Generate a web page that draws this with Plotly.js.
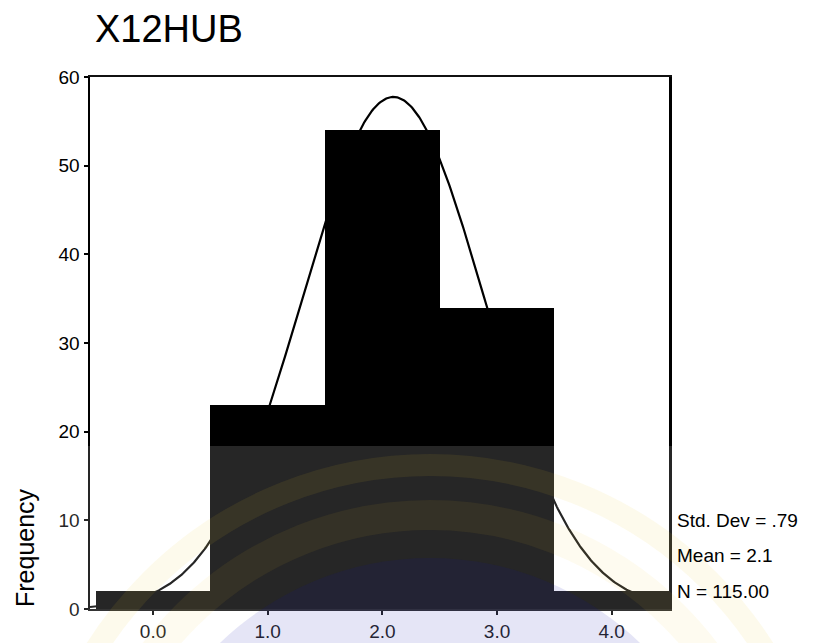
<!DOCTYPE html>
<html>
<head>
<meta charset="utf-8">
<script src="https://cdn.plot.ly/plotly-3.0.1.min.js"></script>
<style>
  html, body { margin: 0; padding: 0; background: #fff; }
  #chart { width: 815px; height: 643px; }
</style>
</head>
<body>
<div id="chart"></div>
<script>
// Histogram of X12HUB (bins of width 1 centred on the category values)
const binCenters = [0, 1, 2, 3, 4];
const frequencies = [2, 23, 54, 34, 2];
const xTickVals = [0, 1, 2, 3, 4];
const xTickText = ['0.0', '1.0', '2.0', '3.0', '4.0'];
const yTickVals = [0, 10, 20, 30, 40, 50, 60];
const chartTitle = 'X12HUB';
const yTitle = 'Frequency';

// Summary statistics taken from the counts
const N = frequencies.reduce((a, b) => a + b, 0);
const mean = binCenters.reduce((s, x, i) => s + x * frequencies[i], 0) / N;
const variance = binCenters.reduce((s, x, i) => s + frequencies[i] * (x - mean) * (x - mean), 0) / (N - 1);
const sd = Math.sqrt(variance);
const binWidth = 1;

// Fitted normal curve scaled to counts per bin
const curveX = [];
const curveY = [];
for (let x = -0.55; x <= 4.5001; x += 0.01) {
  curveX.push(x);
  const z = (x - mean) / sd;
  curveY.push(N * binWidth / (sd * Math.sqrt(2 * Math.PI)) * Math.exp(-0.5 * z * z));
}

const sdLabel = 'Std. Dev = ' + sd.toFixed(2).replace(/^0/, '');
const meanLabel = 'Mean = ' + mean.toFixed(1);
const nLabel = 'N = ' + N.toFixed(2);

const FONT = 'Liberation Sans, Arial, sans-serif';

// plot-area geometry in pixels, used to place paper-referenced decorations
const W = 815, H = 643;
const M = { l: 90, r: 146, t: 77, b: 34 };
const PW = W - M.l - M.r, PH = H - M.t - M.b;
const px = v => (v - M.l) / PW;
const py = v => (H - M.b - v) / PH;

const traces = [
  {
    type: 'bar',
    x: binCenters,
    y: frequencies,
    width: binWidth,
    marker: { color: '#000', line: { width: 0 } },
    hoverinfo: 'x+y'
  },
  {
    type: 'scatter',
    mode: 'lines',
    x: curveX,
    y: curveY,
    line: { color: '#000', width: 2.2 },
    hoverinfo: 'skip'
  }
];

// faint seal printed across the lower part of the sheet
const seal = [
  { type: 'rect', xref: 'paper', yref: 'paper', x0: px(0), x1: px(W), y0: py(446), y1: py(H + 2),
    fillcolor: 'rgba(255,255,255,0.15)', line: { width: 0 }, layer: 'above' },
  { type: 'circle', xref: 'paper', yref: 'paper', x0: px(430 - 395), x1: px(430 + 395), y0: py(860 + 395), y1: py(860 - 395),
    fillcolor: 'rgba(0,0,0,0)', line: { color: 'rgba(235,200,40,0.09)', width: 22 }, layer: 'above' },
  { type: 'circle', xref: 'paper', yref: 'paper', x0: px(430 - 345), x1: px(430 + 345), y0: py(860 + 345), y1: py(860 - 345),
    fillcolor: 'rgba(0,0,0,0)', line: { color: 'rgba(235,200,40,0.07)', width: 30 }, layer: 'above' },
  { type: 'circle', xref: 'paper', yref: 'paper', x0: px(430 - 302), x1: px(430 + 302), y0: py(860 + 302), y1: py(860 - 302),
    fillcolor: 'rgba(20,20,170,0.11)', line: { width: 0 }, layer: 'above' }
];

const layout = {
  width: W,
  height: H,
  margin: M,
  paper_bgcolor: '#fff',
  plot_bgcolor: '#fff',
  showlegend: false,
  bargap: 0,
  font: { family: FONT, color: '#000' },
  title: {
    text: chartTitle,
    font: { family: FONT, size: 38, color: '#000' },
    x: 95 / W,
    xanchor: 'left',
    y: 1 - 29 / H,
    yanchor: 'middle'
  },
  xaxis: {
    range: [-0.55, 4.5],
    tickmode: 'array',
    tickvals: xTickVals,
    ticktext: xTickText,
    ticks: 'outside',
    ticklen: 4,
    tickwidth: 2,
    tickcolor: '#000',
    tickfont: { family: FONT, size: 19, color: '#000' },
    showgrid: false,
    zeroline: false,
    showline: true,
    linecolor: '#111',
    linewidth: 2,
    mirror: true
  },
  yaxis: {
    range: [0, 60],
    tickmode: 'array',
    tickvals: yTickVals,
    ticks: 'outside',
    ticklen: 4,
    tickwidth: 2,
    tickcolor: '#000',
    tickfont: { family: FONT, size: 19, color: '#000' },
    showgrid: false,
    zeroline: false,
    showline: true,
    linecolor: '#000',
    linewidth: 2.5,
    mirror: true
  },
  shapes: seal,
  annotations: [
    { text: yTitle, xref: 'paper', yref: 'paper', x: px(25), y: py(548), textangle: -90,
      showarrow: false, xanchor: 'center', yanchor: 'middle', font: { family: FONT, size: 25, color: '#000' } },
    { text: sdLabel, xref: 'paper', yref: 'paper', x: px(675), y: py(520), showarrow: false,
      xanchor: 'left', yanchor: 'middle', font: { family: FONT, size: 19, color: '#000' } },
    { text: meanLabel, xref: 'paper', yref: 'paper', x: px(675), y: py(555), showarrow: false,
      xanchor: 'left', yanchor: 'middle', font: { family: FONT, size: 19, color: '#000' } },
    { text: nLabel, xref: 'paper', yref: 'paper', x: px(675), y: py(591), showarrow: false,
      xanchor: 'left', yanchor: 'middle', font: { family: FONT, size: 19, color: '#000' } }
  ]
};

Plotly.newPlot('chart', traces, layout, { displayModeBar: false, staticPlot: true });
</script>
</body>
</html>
